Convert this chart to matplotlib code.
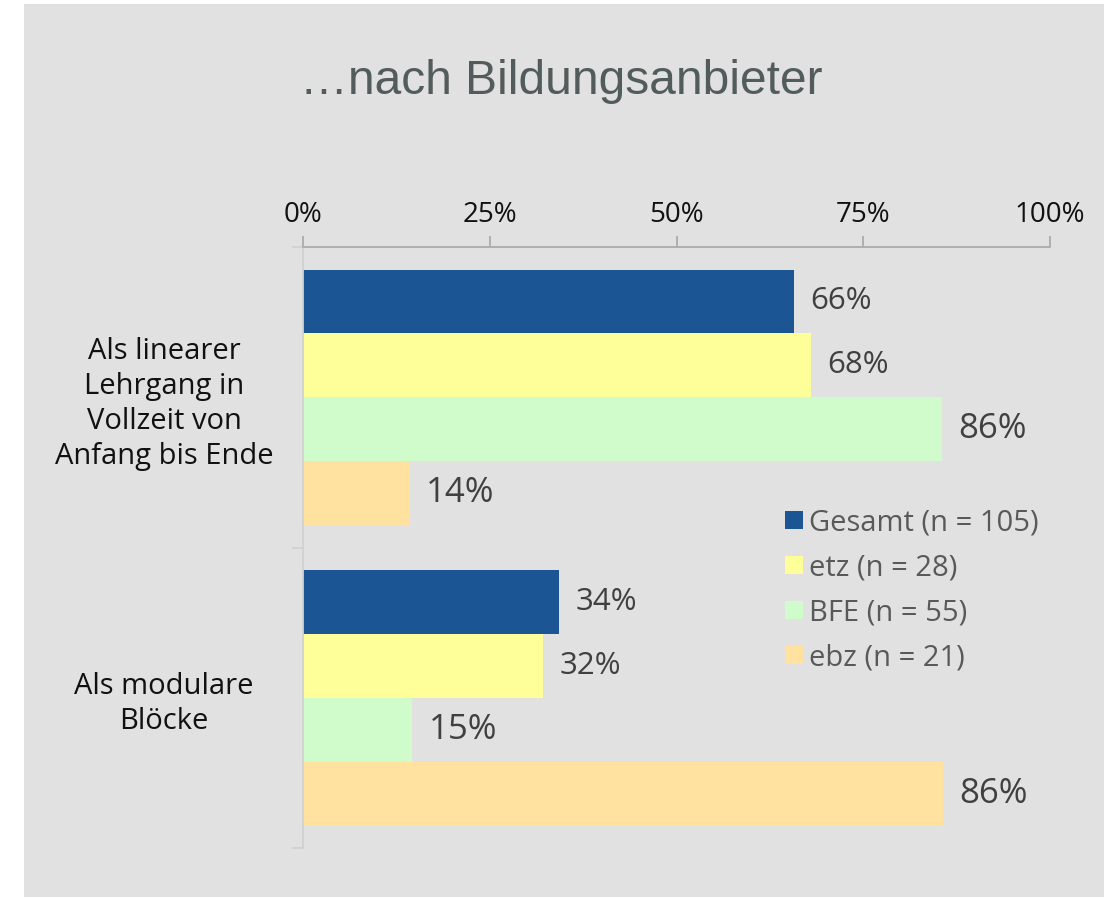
import matplotlib.pyplot as plt
import numpy as np

# Daten
kategorien = ["Als linearer\nLehrgang in\nVollzeit von\nAnfang bis Ende", "Als modulare\nBlöcke"]
serien = ["Gesamt (n = 105)", "etz (n = 28)", "BFE (n = 55)", "ebz (n = 21)"]
gesamt = [65.7, 34.3]
etz = [68.0, 32.1]
bfe = [85.5, 14.6]
ebz = [14.2, 85.7]
werte = [gesamt, etz, bfe, ebz]
farben = ["#1B5593", "#FFFF99", "#D0FCCB", "#FFE2A0"]
label_size = [22.5, 22.5, 25, 25]
ticks = [0, 25, 50, 75, 100]

bg = "#E0E1E0"

fig = plt.figure(figsize=(11.15, 8.98), dpi=100)
fig.patch.set_facecolor("white")
# grauer Hintergrund
fig.patches.append(plt.Rectangle((24 / 1115, 1 - 897 / 898), 1080 / 1115, 893 / 898,
                                 transform=fig.transFigure, facecolor=bg, edgecolor="none", zorder=-1))

ax = fig.add_axes([303 / 1115, 1 - 848 / 898, 747 / 1115, 601 / 898])
ax.set_facecolor(bg)

h = 0.2125
y = np.arange(len(kategorien))
for i, (vals, col) in enumerate(zip(werte, farben)):
    pos = y + (i - 1.5) * h
    ax.barh(pos, vals, height=h, color=col, label=serien[i], zorder=2)
    for p, v in zip(pos, vals):
        ax.text(v + 2.2, p, f"{round(v)}%", va="center", ha="left",
                fontsize=label_size[i], color="#404040", family="Open Sans")

ax.set_xlim(0, 100)
ax.set_ylim(1.5, -0.5)
ax.xaxis.tick_top()
ax.set_xticks(ticks)
ax.set_xticklabels([f"{t}%" for t in ticks], fontsize=20, family="Open Sans", color="#111111")
ax.tick_params(axis="x", direction="out", length=8, color="#A8ADAD", width=1.3, pad=5)

ax.set_yticks([-0.5, 0.5, 1.5])
ax.set_yticklabels([])
ax.set_yticks(y, minor=True)
ax.set_yticklabels(kategorien, minor=True, fontsize=21, family="Open Sans",
                   ha="center", linespacing=1.27, color="#111111")
ax.tick_params(axis="y", which="minor", length=0, pad=100)
ax.tick_params(axis="y", which="major", direction="out", length=8, color="#D0D2D2", width=1.3)

for s in ["right", "bottom"]:
    ax.spines[s].set_visible(False)
ax.spines["top"].set_color("#A8ADAD")
ax.spines["top"].set_linewidth(1.3)
ax.spines["left"].set_color("#D0D2D2")
ax.spines["left"].set_linewidth(1.3)

leg = ax.legend(loc="upper left", bbox_to_anchor=(0.63, 0.585), frameon=False,
                prop={"family": "Open Sans", "size": 21}, handlelength=0.6, handleheight=0.6,
                handletextpad=0.22, labelspacing=0.55, borderaxespad=0)
for t in leg.get_texts():
    t.set_color("#595959")

fig.text(561 / 1115, 1 - 82 / 898, "…nach Bildungsanbieter", ha="center", va="center",
         fontsize=34.5, family="Liberation Sans", color="#535C5C")

fig.savefig("out.png", dpi=100, facecolor=fig.get_facecolor())
